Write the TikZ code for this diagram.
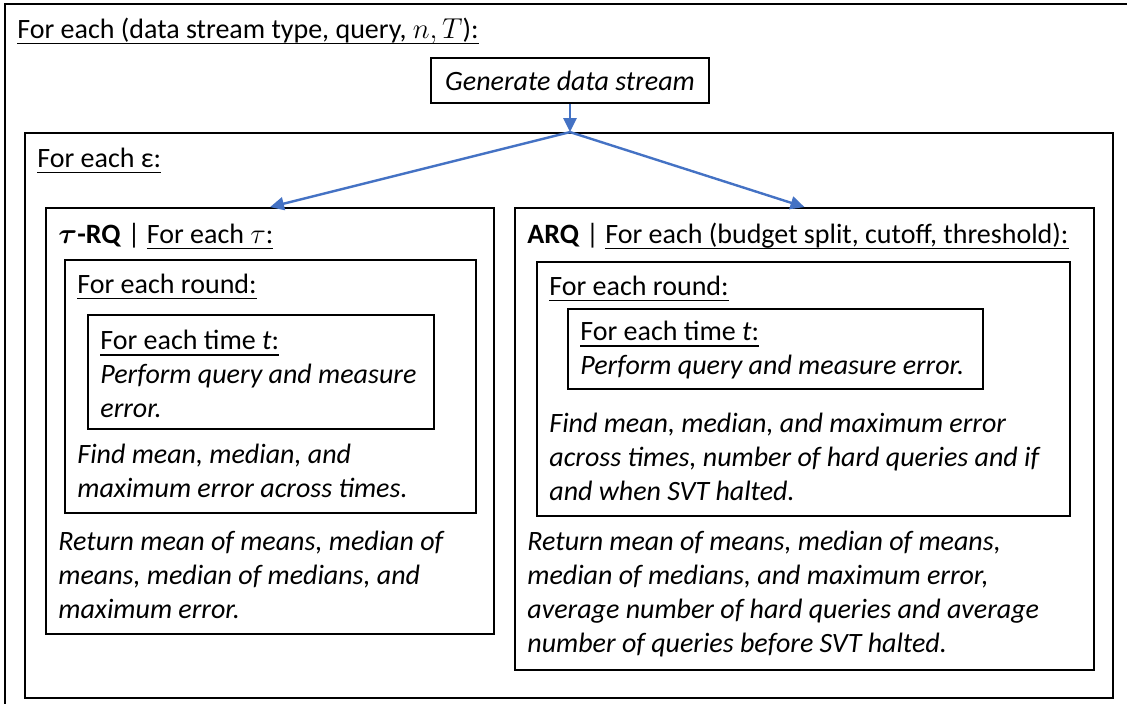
\documentclass[tikz,border=0pt]{standalone}
\usepackage{amsmath}
\usepackage{fontspec}
\setmainfont{Carlito}
\usetikzlibrary{arrows.meta, positioning, fit}
\definecolor{flowblue}{RGB}{68,114,196}
\newcommand{\undl}[1]{\setbox0\hbox{#1}\rlap{\rule[-3pt]{\wd0}{0.75pt}}\box0}

\begin{document}
\begin{tikzpicture}[x=0.5pt, y=-0.5pt,
    loopbox/.style={draw, line width=0.9pt, inner sep=0pt},
    txt/.style={anchor=north west, inner sep=0pt, align=left, font=\fontsize{14pt}{17pt}\selectfont,
      execute at begin node={\rule{0pt}{13pt}}},
    para/.style={txt, font=\fontsize{14pt}{17pt}\selectfont\itshape},
    flow/.style={draw=flowblue, line width=1.2pt, -{Triangle[length=7pt, width=6.5pt]}}]

\useasboundingbox (0,0) rectangle (1127,704);

% outer loop, cut by the page edge
\begin{scope}
  \clip (0,0) rectangle (1127,704);
  \node[loopbox, fit={(5,4) (1140,715)}] (outer) {};
\end{scope}
% text nodes: first baseline sits 26 below the given point
\node[txt] (outerhead) at (17,12) {\undl{For each (data stream type, query, $n, T$):}};
\node[loopbox, minimum width=139pt, minimum height=22.5pt, font=\fontsize{14pt}{17pt}\selectfont\itshape] (gen) at (570,80.5) {Generate data stream};

% epsilon loop
\node[loopbox, fit={(25,133) (1113,698)}] (eps) {};
\node[txt] (epshead) at (37,141) {\undl{For each ε:}};

% tau-RQ
\node[loopbox, fit={(46,208) (494,634)}] (tau) {};
\node[txt] (tauhead) at (58,217) {$\boldsymbol{\tau}$\textbf{-RQ} | \undl{For each $\tau$:}};
\node[loopbox, fit={(65,260) (476,513)}] (tauround) {};
\node[txt] (tauroundhead) at (77,267) {\undl{For each round:}};
\node[loopbox, fit={(88,315) (434,429)}] (tautime) {};
\node[txt] (tautimetext) at (100,330) {\undl{For each time \textit{t}:}\\\textit{Perform query and measure}\\\textit{error.}};
\node[para] (taufind) at (77,444) {Find mean, median, and\\maximum error across times.};
\node[para] (taureturn) at (58,531) {Return mean of means, median of\\means, median of medians, and\\maximum error.};

% ARQ
\node[loopbox, fit={(515,208) (1094,670)}] (arq) {};
\node[txt] (arqhead) at (527,217) {\textbf{ARQ} | \undl{For each (budget split, cutoff, threshold):}};
\node[loopbox, fit={(537,262) (1070,516)}] (arqround) {};
\node[txt] (arqroundhead) at (549,269) {\undl{For each round:}};
\node[loopbox, fit={(568,309) (983,389)}] (arqtime) {};
\node[txt] (arqtimetext) at (580,321) {\undl{For each time \textit{t}:}\\\textit{Perform query and measure error.}};
\node[para] (arqfind) at (549,413) {Find mean, median, and maximum error\\across times, number of hard queries and if\\and when SVT halted.};
\node[para] (arqreturn) at (527,531) {Return mean of means, median of means,\\median of medians, and maximum error,\\average number of hard queries and average\\number of queries before SVT halted.};

% flow
\coordinate (split) at (gen.south |- eps.north);
\draw[flow] (gen.south) -- (split);
\draw[flow] (split) -- (tau.north);
\draw[flow] (split) -- (arq.north);
\end{tikzpicture}
\end{document}
